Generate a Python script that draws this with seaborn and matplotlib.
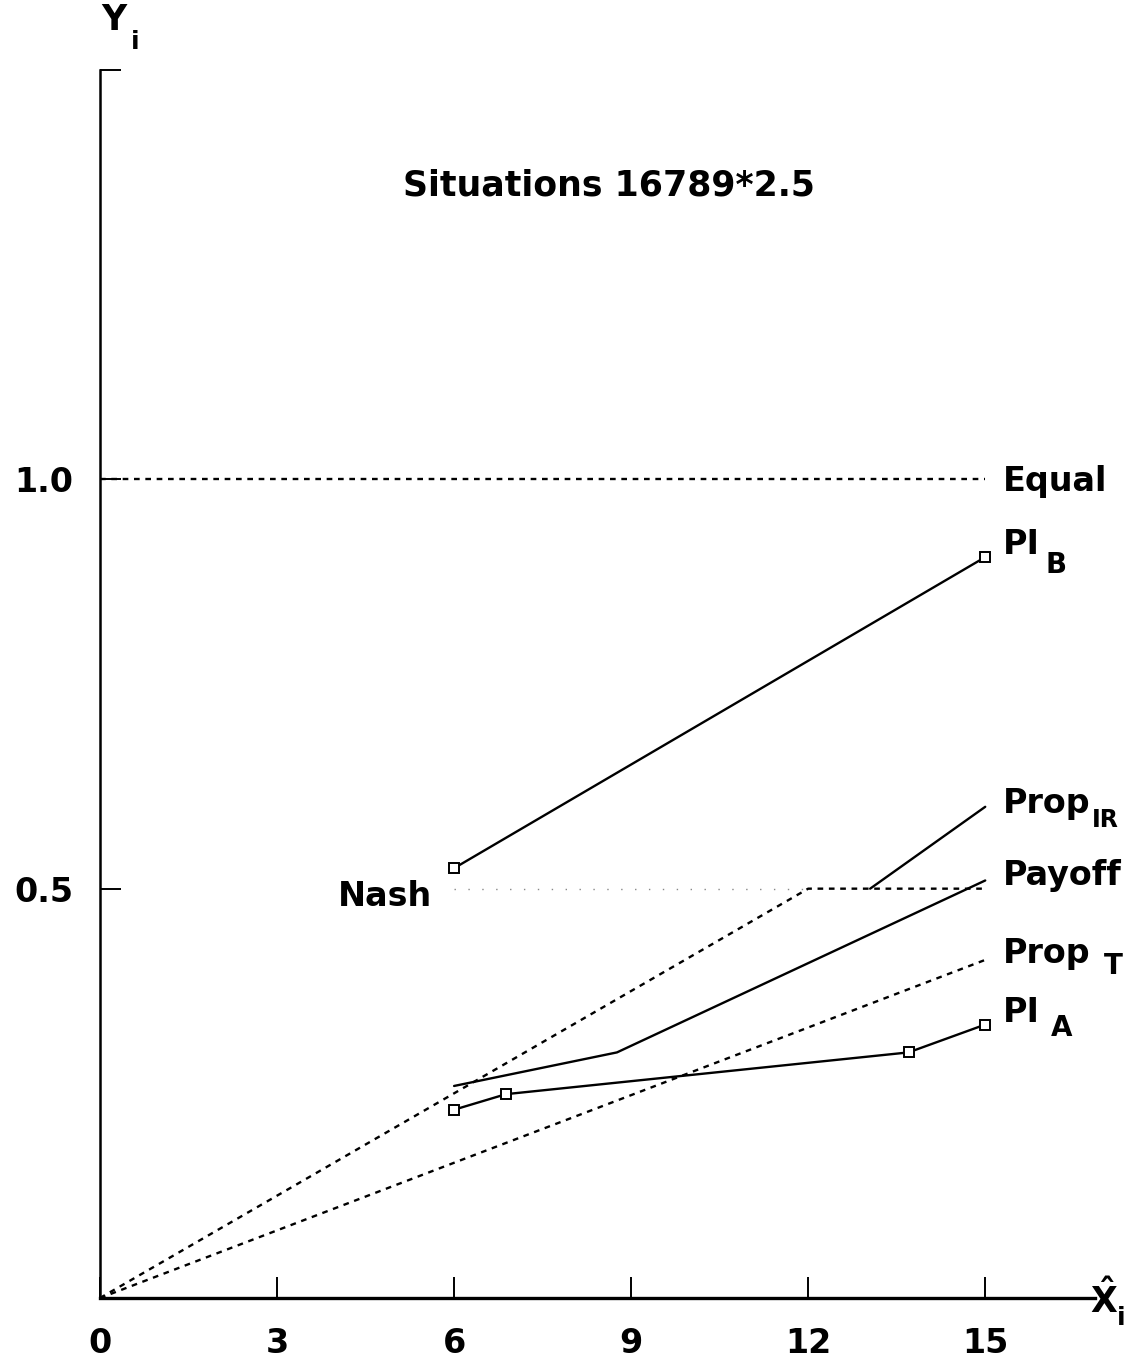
import matplotlib
matplotlib.use("Agg")
import matplotlib.pyplot as plt
import seaborn as sns

sns.set_theme(style="white")
plt.rcParams['font.family'] = ['DejaVu Sans']
plt.rcParams['mathtext.fontset'] = 'dejavusans'
plt.rcParams['font.weight'] = 'bold'

# ---- data ----
equal_x = [0, 15]
equal_y = [1.0, 1.0]
nash_x = [6, 12]
nash_y = [0.5, 0.5]
pi_b_x = [6, 15]
pi_b_y = [0.525, 0.905]
prop_ir_x = [0, 12, 15]
prop_ir_y = [0.0, 0.5, 0.5]
prop_ir_solid_x = [13.05, 15]
prop_ir_solid_y = [0.5, 0.6]
payoff_x = [6, 8.76, 15]
payoff_y = [0.259, 0.300, 0.510]
prop_t_x = [0, 15]
prop_t_y = [0.0, 0.413]
pi_a_x = [6, 6.88, 13.7, 15]
pi_a_y = [0.230, 0.249, 0.300, 0.334]

x_ticks = [0, 3, 6, 9, 12, 15]
x_tick_labels = ['0', '3', '6', '9', '12', '15']
y_ticks = [0.5, 1.0, 1.5]
y_tick_labels = ['0.5', '1.0', '']
title_text = 'Situations 16789*2.5'

W, H = 1133, 1365
fig = plt.figure(figsize=(W / 100, H / 100), dpi=100)
ax = fig.add_axes([100 / W, 67 / H, 995 / W, 1228 / H])
ax.set_xlim(0, 16.86)
ax.set_ylim(0, 1.5)

dotted = (0, (2.4, 2.4))
common = dict(ax=ax, color='black', sort=False, estimator=None, legend=False)

sns.lineplot(x=equal_x, y=equal_y, lw=1.7, linestyle=dotted, **common)
sns.lineplot(x=nash_x, y=nash_y, lw=1.0, linestyle=(0, (1, 9)), ax=ax, color='#888888',
             sort=False, estimator=None, legend=False)
sns.lineplot(x=prop_ir_x, y=prop_ir_y, lw=1.7, linestyle=dotted, **common)
sns.lineplot(x=prop_t_x, y=prop_t_y, lw=1.7, linestyle=dotted, **common)
sns.lineplot(x=prop_ir_solid_x, y=prop_ir_solid_y, lw=1.7, **common)
sns.lineplot(x=payoff_x, y=payoff_y, lw=1.7, **common)
mk = dict(marker='s', markersize=6.5, markerfacecolor='white', mec='black', mew=1.4)
sns.lineplot(x=pi_b_x, y=pi_b_y, lw=1.7, **mk, **common)
sns.lineplot(x=pi_a_x, y=pi_a_y, lw=1.7, **mk, **common)

# axes styling
for s in ['top', 'right']:
    ax.spines[s].set_visible(False)
ax.spines['left'].set_color('black')
ax.spines['left'].set_linewidth(1.8)
ax.spines['bottom'].set_color('black')
ax.spines['bottom'].set_linewidth(2.4)
ax.set_xticks(x_ticks)
ax.set_xticklabels(x_tick_labels, fontweight='bold')
ax.set_yticks(y_ticks)
ax.set_yticklabels(y_tick_labels, fontweight='bold')
ax.tick_params(axis='x', direction='in', length=15, width=1.4, pad=21,
               labelsize=24, colors='black', bottom=True)
ax.tick_params(axis='y', direction='in', length=15, width=1.4, pad=19,
               labelsize=24, colors='black', left=True)
ax.grid(False)
ax.set_xlabel('')
ax.set_ylabel('')


def ptext(px, py, s, size=24, ha='left', va='center'):
    fig.text(px / W, 1 - py / H, s, fontsize=size, ha=ha, va=va, color='black',
             fontweight='bold')


# title
ptext(609, 185, title_text, size=25, ha='center')
# axis labels
ptext(101, 20, 'Y', size=25)
ptext(131, 42, 'i', size=18)
ptext(1090, 1300, r'$\hat{\mathbf{X}}$', size=25)
ptext(1117, 1318, 'i', size=18)
# series labels
ptext(1003, 481, 'Equal')
ptext(1003, 545, 'PI')
ptext(1046, 565, 'B', size=20)
ptext(1003, 803, 'Prop')
ptext(1092, 820, 'IR', size=17)
ptext(1003, 876, 'Payoff')
ptext(1003, 953, 'Prop')
ptext(1104, 966, 'T', size=20)
ptext(1003, 1012, 'PI')
ptext(1051, 1028, 'A', size=20)
ptext(432, 896, 'Nash', ha='right')

fig.savefig('out.png', dpi=100)
